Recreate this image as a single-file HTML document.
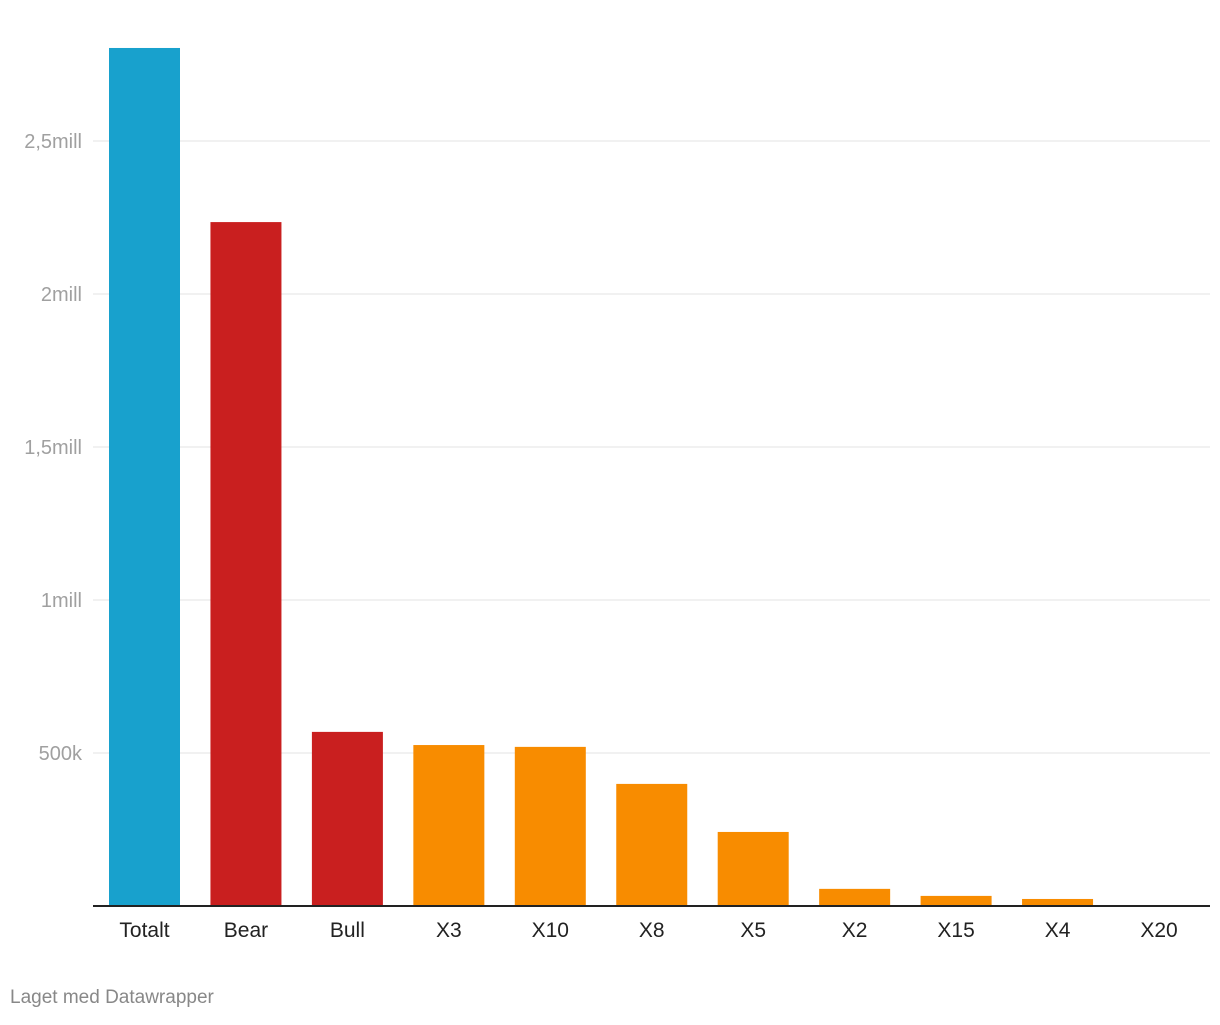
<!DOCTYPE html>
<html><head><meta charset="utf-8"><style>
body{margin:0;background:#fff;width:1220px;height:1020px;overflow:hidden;font-family:"Liberation Sans",sans-serif}
</style></head><body>
<svg id="chart" width="1220" height="1020" xmlns="http://www.w3.org/2000/svg"></svg>
<script>
const categories=["Totalt","Bear","Bull","X3","X10","X8","X5","X2","X15","X4","X20"];
const values=[2804000,2235000,569000,526000,520000,399000,242000,56000,33000,23000,0];
const colors=["#18a1cd","#c91f1f","#c91f1f","#f88c00","#f88c00","#f88c00","#f88c00","#f88c00","#f88c00","#f88c00","#f88c00"];
const tickValues=[500000,1000000,1500000,2000000,2500000];
const tickLabels=["500k","1mill","1,5mill","2mill","2,5mill"];
const svg=document.getElementById('chart');
const NS="http://www.w3.org/2000/svg";
const y0=906,pxPer=153/500000;
const y=v=>y0-v*pxPer;
const x=i=>144.5+i*101.45;
function mk(t,a){const e=document.createElementNS(NS,t);for(const k in a)e.setAttribute(k,a[k]);svg.appendChild(e);return e;}
tickValues.forEach((v,i)=>{
 const l=mk('line',{x1:93,x2:1210,y1:y(v),y2:y(v),stroke:'#e3e3e3','stroke-width':1});
 
 
 const t=mk('text',{x:82,y:y(v)+7,'text-anchor':'end','font-size':20,fill:'#a0a0a0'});
 t.textContent=tickLabels[i];
 
 
});
values.forEach((v,i)=>{
 const r=mk('rect',{x:x(i)-35.5,y:y(v),width:71,height:v*pxPer,fill:colors[i]});
 
 
 const t=mk('text',{x:x(i),y:937,'text-anchor':'middle','font-size':21,fill:'#222'});
 t.textContent=categories[i];
 
 
});
const base=mk('line',{x1:93,x2:1210,y1:906,y2:906,stroke:'#222','stroke-width':2});


const c=mk('text',{x:10,y:1003,'font-size':19,fill:'#888'});
c.textContent="Laget med Datawrapper";


</script>
</body></html>
